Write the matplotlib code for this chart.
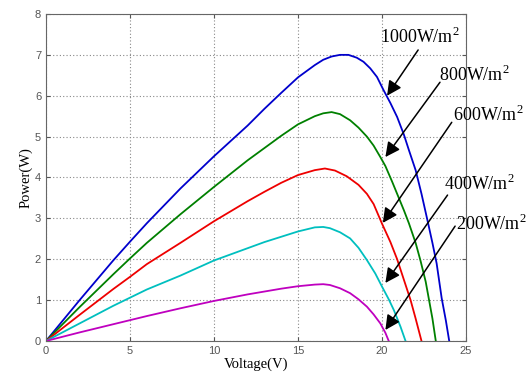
import matplotlib

matplotlib.use("Agg")
import matplotlib.pyplot as plt

plt.rcParams["mathtext.fontset"] = "custom"
plt.rcParams["mathtext.rm"] = "Liberation Serif"

# P-V curves of a PV module at several irradiance levels
v_1000 = [0, 2, 4, 5, 6, 8, 10, 12, 13, 14, 15, 16, 16.5, 17, 17.5, 18, 18.5, 18.9,
          19.3, 19.7, 20.1, 20.5, 20.9, 21.3, 21.6, 22.0, 22.35, 22.7, 23.0, 23.25,
          23.55, 23.8, 24.0]
p_1000 = [0, 1.0, 1.97, 2.43, 2.88, 3.73, 4.52, 5.27, 5.68, 6.07, 6.45, 6.75, 6.88,
          6.96, 7.0, 7.0, 6.93, 6.83, 6.67, 6.46, 6.13, 5.82, 5.48, 5.05, 4.67, 4.18,
          3.6, 2.96, 2.4, 1.9, 1.05, 0.5, 0]

v_800 = [0, 2, 4, 5, 6, 8, 10, 12, 13, 14, 15, 16, 16.5, 17, 17.5, 18.1, 18.6, 19.1,
         19.5, 19.9, 20.2, 20.6, 21.0, 21.3, 21.6, 22.0, 22.3, 22.6, 22.8, 23.0, 23.2]
p_800 = [0, 0.83, 1.63, 2.02, 2.4, 3.1, 3.77, 4.42, 4.72, 5.02, 5.3, 5.5, 5.57, 5.6,
         5.55, 5.4, 5.22, 5.0, 4.78, 4.5, 4.28, 3.9, 3.5, 3.2, 2.88, 2.4, 1.95, 1.45,
         1.0, 0.55, 0]

v_600 = [0, 2, 4, 5, 6, 8, 10, 12, 13, 14, 15, 16, 16.6, 17.2, 17.9, 18.6, 19.1, 19.5,
         20.0, 20.5, 20.9, 21.3, 21.7, 22.0, 22.35]
p_600 = [0, 0.64, 1.27, 1.57, 1.88, 2.4, 2.93, 3.42, 3.65, 3.87, 4.06, 4.18, 4.22,
         4.17, 4.03, 3.82, 3.6, 3.35, 2.87, 2.42, 2.0, 1.5, 1.0, 0.55, 0]

v_400 = [0, 2, 4, 6, 8, 10, 12, 13, 14, 15, 16, 16.5, 16.9, 17.5, 18.1, 18.6, 19.1,
         19.6, 20.0, 20.4, 20.7, 21.1, 21.4]
p_400 = [0, 0.43, 0.86, 1.26, 1.6, 1.97, 2.27, 2.42, 2.55, 2.68, 2.78, 2.79, 2.76,
         2.66, 2.51, 2.28, 1.98, 1.65, 1.33, 1.02, 0.76, 0.35, 0]

v_200 = [0, 2, 4, 6, 8, 10, 12, 14, 15, 16, 16.5, 16.9, 17.5, 18.1, 18.6, 19.1, 19.5,
         19.9, 20.2, 20.4]
p_200 = [0, 0.21, 0.41, 0.61, 0.8, 0.98, 1.14, 1.28, 1.34, 1.38, 1.39, 1.37, 1.29,
         1.17, 1.02, 0.84, 0.65, 0.43, 0.2, 0]

labels = ["1000W/m$^\\mathrm{2}$", "800W/m$^\\mathrm{2}$", "600W/m$^\\mathrm{2}$",
          "400W/m$^\\mathrm{2}$", "200W/m$^\\mathrm{2}$"]
# label anchor, arrow tail and arrow tip in data units
label_xy = [(19.9, 7.45), (23.4, 6.5), (24.2, 5.52), (23.7, 3.85), (24.4, 2.87)]
start_xy = [(22.15, 7.12), (23.45, 6.33), (24.15, 5.35), (23.9, 3.57), (24.35, 2.81)]
tip_xy = [(20.3, 6.0), (20.2, 4.5), (20.05, 2.89), (20.2, 1.42), (20.2, 0.27)]

series = [(v_1000, p_1000, "#0000cc"), (v_800, p_800, "#008000"),
          (v_600, p_600, "#ee0000"), (v_400, p_400, "#00bfbf"),
          (v_200, p_200, "#bf00bf")]

fig = plt.figure(figsize=(5.27, 3.73), dpi=100)
ax = fig.add_axes([0.0873, 0.0858, 0.7970, 0.8767])

for v, p, c in series:
    ax.plot(v, p, color=c, lw=1.3)

for lab, txy, sxy, exy in zip(labels, label_xy, start_xy, tip_xy):
    ax.text(txy[0], txy[1], lab, family="Liberation Serif", fontsize=13,
            ha="left", va="center", clip_on=False)
    ax.annotate("", xy=exy, xytext=sxy,
                arrowprops=dict(arrowstyle="-|>", color="k", lw=1.1,
                                mutation_scale=22, shrinkA=0, shrinkB=0))

ax.set_xlim(0, 25)
ax.set_ylim(0, 8)
ax.set_xticks(range(0, 26, 5))
ax.set_yticks(range(0, 9))
ax.grid(True, ls=(0, (1, 2)), color="#888888", lw=0.8)
ax.tick_params(direction="in", labelsize=8, colors="#555555", length=3,
               top=True, right=True)
for s in ax.spines.values():
    s.set_color("#666666")
for t in ax.get_xticklabels() + ax.get_yticklabels():
    t.set_family("Liberation Sans")
ax.set_xlabel("Voltage(V)", family="Liberation Serif", fontsize=10.5, labelpad=1)
ax.set_ylabel("Power(W)", family="Liberation Serif", fontsize=10.5, labelpad=2)

fig.savefig("out.png", dpi=100)
